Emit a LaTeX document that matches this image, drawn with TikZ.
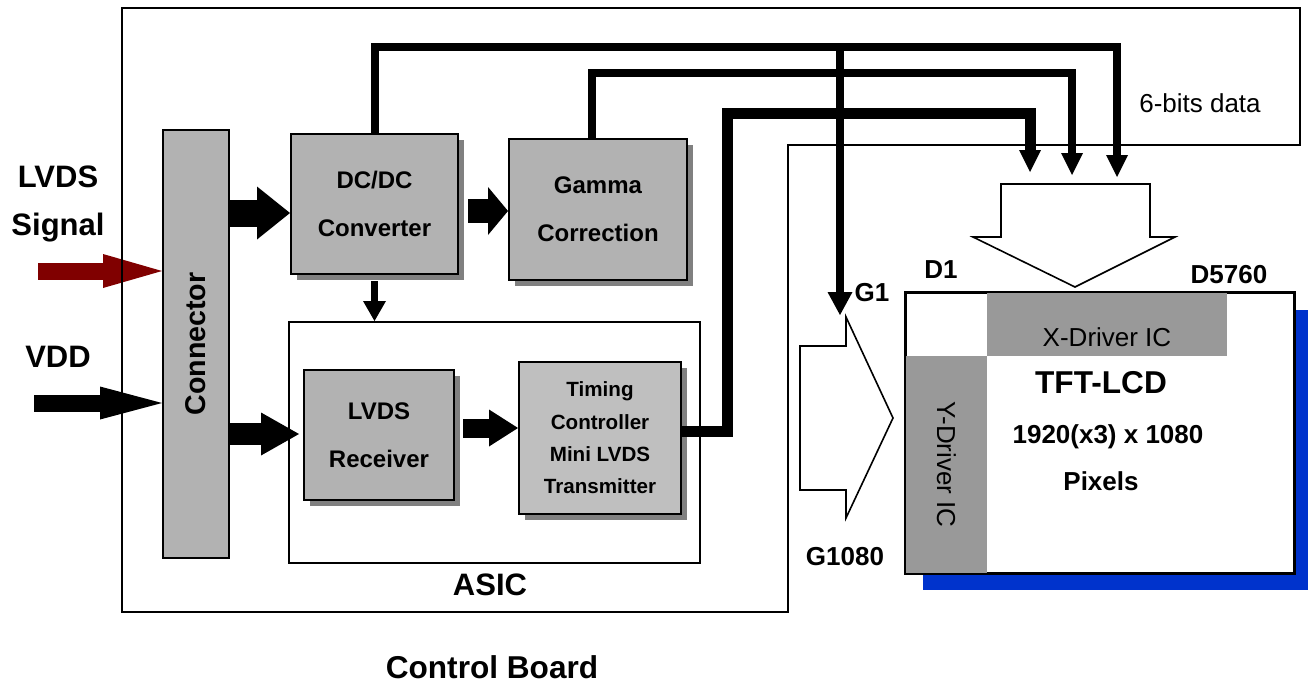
\documentclass[tikz,border=0pt]{standalone}
\usepackage{fontspec}
\setmainfont{Liberation Sans}
\usepackage{tikz}
\usetikzlibrary{positioning,arrows.meta,shadows}
\definecolor{sigred}{HTML}{800000}
\definecolor{panelblue}{HTML}{0033CC}
\tikzset{
  board/.style={draw=black, line width=0.8pt},
  graybox/.style={rectangle, draw=black, line width=1pt, fill=black!30, inner sep=0pt, align=center, font=\fontsize{12}{24}\selectfont\bfseries},
  blk/.style={graybox, drop shadow={shadow xshift=3pt, shadow yshift=-3pt, fill=black!50, opacity=1}},
  asicbox/.style={rectangle, draw=black, line width=1pt, fill=white, inner sep=0pt},
  txt/.style={inner sep=0pt, font=\fontsize{13}{16}\selectfont\bfseries},
  bigtxt/.style={inner sep=0pt, align=center, font=\fontsize{15.5}{24}\selectfont\bfseries},
  drv/.style={rectangle, fill=black!40, inner sep=0pt, font=\fontsize{13}{16}\selectfont},
  fat/.style n args={3}{line width=#1, -{Triangle[width=#2, length=#3, line width=0pt]}},
  bus/.style={line width=4pt, -{Triangle[width=11pt, length=11pt, line width=0pt]}},
  hollow/.style={draw=black, line width=0.8pt, fill=white, line join=miter},
}

\begin{document}
\begin{tikzpicture}[x=0.5pt, y=-0.5pt]
  \useasboundingbox (0,0) rectangle (1308,686);

  % inputs
  \node[bigtxt] (sig) at (58,204) {LVDS\\Signal};
  \node[bigtxt] (vdd) at (58,357) {VDD};
  \coordinate (sigin) at (38,271);
  \coordinate (vddin) at (34,403);

  % control board blocks
  \node[graybox, minimum width=33pt, minimum height=214pt,
        label={[rotate=90, font=\fontsize{14.3}{16}\selectfont\bfseries]center:Connector}] (conn) at (196,344) {};
  \node[blk, minimum width=83.5pt, minimum height=70pt] (dcdc) at (374.5,204) {DC/DC\\Converter};
  \node[blk, minimum width=89pt, minimum height=70.5pt] (gam) at (598,209.5) {Gamma\\Correction};
  \node[asicbox, minimum width=205.5pt, minimum height=120.5pt] (asic) at (494.5,442.5) {};
  \node[bigtxt] (asiclab) at (490,585) {ASIC};
  \node[blk, minimum width=75pt, minimum height=65pt] (rx) at (379,435) {LVDS\\Receiver};
  \node[blk, fill=black!25, minimum width=81pt, minimum height=76pt,
        font=\fontsize{10.3}{16.2}\selectfont\bfseries] (tcon) at (600,438) {Timing\\Controller\\Mini LVDS\\Transmitter};

  \draw[fat={8.5pt}{17pt}{29.5pt}, sigred] (sigin) -- (conn.west |- sigin);
  \draw[fat={8.5pt}{16.5pt}{31pt}] (vddin) -- (conn.west |- vddin);
  \draw[fat={13.5pt}{26.5pt}{16.5pt}] (conn.east |- 0,213) -- (dcdc.west |- 0,213);
  \draw[fat={11pt}{21.5pt}{19pt}] (conn.east |- 0,434) -- ([xshift=-2pt]rx.west |- 0,434);
  \draw[fat={12pt}{24pt}{10pt}] ([xshift=4.5pt]dcdc.east |- 0,211) -- (gam.west |- 0,211);
  \draw[fat={3.5pt}{11.5pt}{10pt}] ([yshift=-3pt]dcdc.south) -- (asic.north -| dcdc.south);
  \draw[fat={9.5pt}{18.5pt}{14.5pt}] ([xshift=4pt]rx.east |- 0,428) -- (tcon.west |- 0,428);

  % panel side
  \coordinate (d1) at (1030,172);
  \coordinate (d2) at (1072,175);
  \coordinate (d3) at (1117,177);
  \coordinate (g1) at (840,315);
  \draw[hollow] (1001,184) -- (1150,184) -- (1150,237) -- (1175,237) -- (1075,287) -- (973,237) -- (1001,237) -- cycle;
  \draw[hollow] (800,346) -- (846,346) -- (846,317) -- (893,418) -- (846,518) -- (846,490) -- (800,490) -- cycle;

  \draw[bus] (dcdc.north) |- (d3 |- 0,47) -- (d3);
  \draw[fat={4pt}{12.5pt}{11.5pt}] (g1 |- 0,47) -- (g1);
  \draw[bus] ([xshift=-3pt]gam.north) |- (d2 |- 0,73) -- (d2);
  \draw[bus, line width=5.5pt] (tcon.east |- 0,431) -- (727,431) |- (d1 |- 0,113) -- (d1);

  \node[asicbox, minimum width=194pt, minimum height=140pt,
        drop shadow={shadow xshift=8.5pt, shadow yshift=-8.5pt, fill=panelblue, opacity=1}] (lcd) at (1100,433) {};
  \node[drv, minimum width=120pt, minimum height=31.5pt, text height=21.5pt, text depth=0pt] (xdrv) at (1107,324.5) {X-Driver IC};
  \node[drv, rotate=-90, minimum width=108.5pt, minimum height=40.5pt] (ydrv) at (946.5,464.5) {Y-Driver IC};
  \draw[line width=1pt] (lcd.south west) rectangle (lcd.north east);
  \node[txt, font=\fontsize{15.8}{18}\selectfont\bfseries] (tft) at (1101,383) {TFT-LCD};
  \node[txt] (res) at (1108,437) {1920(x3) x 1080};
  \node[txt] (pix) at (1101,481) {Pixels};

  \node[txt] (g1lab) at (872,293) {G1};
  \node[txt] (gnlab) at (845,557) {G1080};
  \node[txt] (dlab) at (941,270) {D1};
  \node[txt] (dnlab) at (1229,275) {D5760};

  % control board outline
  \draw[board] (122,8) -- (1300,8) -- (1300,145) -- (788,145) -- (788,612) -- (122,612) -- cycle;
  \node[txt, font=\fontsize{13}{16}\selectfont] (bits) at (1200,103) {6-bits data};
  \node[bigtxt, font=\fontsize{15.8}{24}\selectfont\bfseries] (cb) at (492,667) {Control Board};
\end{tikzpicture}
\end{document}
